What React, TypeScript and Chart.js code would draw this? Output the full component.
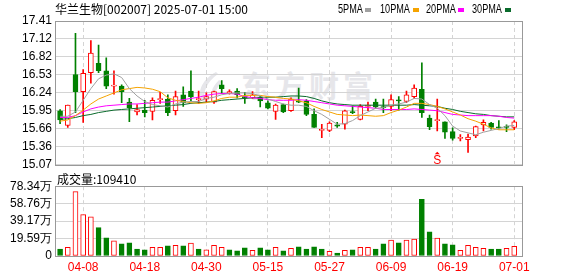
import React, { useEffect, useRef } from "react";
import { Chart, registerables } from "chart.js";
Chart.register(...registerables);

// ---------- data ----------
const stockTitle = "华兰生物[002007] 2025-07-01 15:00";
const volumeTitle = "成交量:109410";
const maNames = ["5PMA", "10PMA", "20PMA", "30PMA"];
const watermark = "东方财富";
const sellSignalDate = "06-17";

const dates = [
  "04-02", "04-03", "04-07", "04-08", "04-09", "04-10", "04-11", "04-14", "04-15", "04-16",
  "04-17", "04-18", "04-21", "04-22", "04-23", "04-24", "04-25", "04-28", "04-29", "04-30",
  "05-06", "05-07", "05-08", "05-09", "05-12", "05-13", "05-14", "05-15", "05-16", "05-19",
  "05-20", "05-21", "05-22", "05-23", "05-26", "05-27", "05-28", "05-29", "05-30", "06-03",
  "06-04", "06-05", "06-06", "06-09", "06-10", "06-11", "06-12", "06-13", "06-16", "06-17",
  "06-18", "06-19", "06-20", "06-23", "06-24", "06-25", "06-26", "06-27", "06-30", "07-01",
];
const axisDates = ["04-08", "04-18", "04-30", "05-15", "05-27", "06-09", "06-19", "07-01"];

const opens = [
  15.95, 15.71, 16.54, 16.26, 16.57, 16.72, 16.60, 16.35, 16.35, 16.09,
  15.93, 15.96, 15.94, 16.13, 16.14, 15.95, 16.21, 16.27, 16.13, 16.14,
  16.09, 16.37, 16.24, 16.27, 16.18, 16.16, 16.17, 16.08, 15.94, 16.05,
  15.95, 16.11, 16.11, 15.89, 15.63, 15.63, 15.72, 15.73, 15.93, 15.81,
  16.02, 16.09, 16.01, 16.02, 16.12, 16.10, 16.18, 16.30, 15.83, 15.79,
  15.77, 15.61, 15.50, 15.48, 15.54, 15.72, 15.75, 15.68, 15.69, 15.68,
];
const highs = [
  15.97, 16.04, 17.21, 16.62, 17.09, 17.02, 16.81, 16.60, 16.37, 16.15,
  16.05, 16.12, 16.16, 16.25, 16.21, 16.27, 16.34, 16.60, 16.27, 16.24,
  16.27, 16.44, 16.29, 16.31, 16.25, 16.26, 16.19, 16.11, 16.06, 16.06,
  16.16, 16.32, 16.13, 15.98, 15.73, 15.77, 15.76, 15.96, 16.03, 16.05,
  16.09, 16.14, 16.14, 16.21, 16.18, 16.27, 16.37, 16.73, 15.88, 16.14,
  15.77, 15.67, 15.56, 15.57, 15.70, 15.80, 15.76, 15.79, 15.72, 15.79,
];
const lows = [
  15.74, 15.68, 15.92, 15.76, 16.40, 16.57, 16.31, 16.22, 16.08, 15.77,
  15.88, 15.85, 15.80, 16.07, 15.87, 15.88, 16.02, 16.11, 16.07, 16.09,
  16.07, 16.23, 16.22, 16.16, 16.07, 16.15, 16.01, 15.98, 15.81, 15.92,
  15.94, 16.08, 15.87, 15.68, 15.51, 15.61, 15.68, 15.65, 15.90, 15.80,
  15.95, 15.99, 15.92, 15.95, 15.96, 16.08, 16.15, 15.84, 15.64, 15.62,
  15.50, 15.47, 15.46, 15.27, 15.51, 15.62, 15.65, 15.65, 15.61, 15.64,
];
const closes = [
  15.80, 16.04, 16.26, 16.56, 16.89, 16.60, 16.35, 16.36, 16.26, 16.00,
  15.97, 15.92, 16.12, 16.14, 15.92, 16.18, 16.08, 16.18, 16.14, 16.18,
  16.26, 16.31, 16.26, 16.21, 16.16, 16.21, 16.11, 15.99, 16.04, 15.93,
  16.14, 16.09, 15.89, 15.68, 15.64, 15.75, 15.70, 15.95, 15.92, 16.02,
  16.04, 16.01, 16.00, 16.13, 16.11, 16.21, 16.32, 15.92, 15.69, 15.80,
  15.60, 15.50, 15.51, 15.52, 15.69, 15.76, 15.68, 15.67, 15.68, 15.77,
];
const ma5 = [
  15.86, 15.86, 15.93, 16.12, 16.31, 16.47, 16.53, 16.55, 16.49, 16.31,
  16.19, 16.10, 16.05, 16.03, 16.01, 16.06, 16.09, 16.10, 16.10, 16.15,
  16.17, 16.21, 16.23, 16.24, 16.24, 16.23, 16.19, 16.14, 16.10, 16.06,
  16.04, 16.04, 16.02, 15.95, 15.89, 15.81, 15.73, 15.74, 15.79, 15.87,
  15.93, 15.99, 16.00, 16.04, 16.06, 16.09, 16.15, 16.14, 16.05, 15.99,
  15.87, 15.70, 15.62, 15.59, 15.56, 15.60, 15.63, 15.66, 15.70, 15.71,
];
const ma10 = [
  15.78, 15.80, 15.87, 15.96, 16.06, 16.14, 16.19, 16.24, 16.29, 16.31,
  16.33, 16.32, 16.30, 16.26, 16.16, 16.12, 16.10, 16.08, 16.07, 16.08,
  16.11, 16.15, 16.17, 16.17, 16.20, 16.20, 16.20, 16.18, 16.17, 16.15,
  16.14, 16.11, 16.08, 16.02, 15.97, 15.93, 15.89, 15.88, 15.87, 15.88,
  15.87, 15.86, 15.87, 15.92, 15.96, 16.01, 16.07, 16.07, 16.05, 16.02,
  15.98, 15.93, 15.88, 15.82, 15.78, 15.73, 15.67, 15.64, 15.64, 15.64,
];
const ma20 = [
  15.84, 15.84, 15.87, 15.93, 15.98, 16.01, 16.03, 16.04, 16.05, 16.06,
  16.06, 16.07, 16.08, 16.09, 16.09, 16.11, 16.13, 16.15, 16.17, 16.20,
  16.22, 16.23, 16.23, 16.22, 16.18, 16.16, 16.15, 16.13, 16.12, 16.12,
  16.12, 16.13, 16.12, 16.10, 16.08, 16.06, 16.04, 16.03, 16.02, 16.01,
  16.00, 15.99, 15.97, 15.97, 15.97, 15.97, 15.98, 15.97, 15.96, 15.95,
  15.92, 15.89, 15.88, 15.87, 15.87, 15.87, 15.87, 15.86, 15.84, 15.83,
];
const ma30 = [
  15.81, 15.82, 15.84, 15.87, 15.89, 15.92, 15.94, 15.96, 15.97, 15.98,
  15.99, 16.00, 16.01, 16.02, 16.03, 16.04, 16.05, 16.07, 16.08, 16.09,
  16.10, 16.12, 16.13, 16.14, 16.15, 16.16, 16.16, 16.17, 16.17, 16.18,
  16.19, 16.19, 16.18, 16.15, 16.11, 16.08, 16.06, 16.05, 16.04, 16.04,
  16.04, 16.04, 16.04, 16.04, 16.04, 16.04, 16.05, 16.04, 16.03, 16.02,
  15.99, 15.97, 15.94, 15.92, 15.90, 15.89, 15.87, 15.86, 15.85, 15.85,
];
// volume in 万 (10k hands)
const volumes = [
  7.9, 9.8, 72.3, 46.5, 43.9, 31.8, 20.4, 17.0, 13.6, 14.8,
  7.9, 6.8, 9.8, 9.8, 11.4, 12.1, 11.4, 14.4, 7.9, 6.8,
  12.1, 9.8, 6.8, 5.7, 9.1, 6.4, 9.1, 6.8, 9.8, 5.7,
  8.7, 10.2, 7.9, 10.2, 7.9, 5.3, 3.4, 6.4, 6.8, 9.8,
  9.8, 7.9, 13.6, 17.8, 14.8, 17.8, 18.9, 63.6, 27.2, 20.1,
  13.6, 12.5, 6.4, 12.1, 9.8, 8.7, 7.9, 7.9, 8.7, 10.941,
];
const priceMin = 15.07;
const priceMax = 17.41;
const priceTickLabels = ["15.07", "15.36", "15.66", "15.95", "16.24", "16.53", "16.82", "17.12", "17.41"];
const volMax = 78.34;
const volTickLabels = ["0", "19.59万", "39.17万", "58.76万", "78.34万"];

// ---------- styles ----------
const RED = "#ff0000";
const GREEN = "#008000";
const MA_COLORS = ["#a0a0a0", "#f5a300", "#ff00ff", "#0a6b2c"];
const GRID = "#d4d4d4";
const FRAME = "#999999";
const NUM_FONT = "'Liberation Sans', Arial, sans-serif";
const CJK_FONT = "'Noto Sans CJK SC', 'Liberation Sans', sans-serif";

const X_MIN = -0.66;
const X_MAX = 60.01;
const gridIdx = axisDates.map((d) => dates.indexOf(d));

const framePlugin = {
  id: "frame",
  afterDatasetsDraw(chart: any) {
    const { ctx, chartArea: a } = chart;
    ctx.save();
    ctx.strokeStyle = FRAME;
    ctx.lineWidth = 1;
    ctx.strokeRect(Math.round(a.left) + 0.5, Math.round(a.top) + 0.5, Math.round(a.right - a.left), Math.round(a.bottom - a.top));
    ctx.restore();
  },
};

const signalPlugin = {
  id: "signal",
  afterDatasetsDraw(chart: any) {
    const idx = dates.indexOf(sellSignalDate);
    if (idx < 0) return;
    const { ctx, chartArea: a } = chart;
    const x = chart.scales.x.getPixelForValue(idx);
    const yb = a.bottom - 1;
    ctx.save();
    ctx.fillStyle = RED;
    ctx.beginPath();
    ctx.moveTo(x, yb - 12);
    ctx.lineTo(x - 2.5, yb - 9.5);
    ctx.lineTo(x + 2.5, yb - 9.5);
    ctx.closePath();
    ctx.fill();
    ctx.font = `12px ${NUM_FONT}`;
    ctx.textAlign = "center";
    ctx.textBaseline = "alphabetic";
    ctx.fillText("S", x, yb);
    ctx.restore();
  },
};

function xAxis(showLabels: boolean) {
  return {
    type: "linear",
    min: X_MIN,
    max: X_MAX,
    offset: false,
    afterBuildTicks: (s: any) => {
      s.ticks = gridIdx.map((v) => ({ value: v }));
    },
    afterFit: (s: any) => {
      s.height = showLabels ? 20 : 0;
    },
    grid: { display: true, offset: false, color: GRID, lineWidth: 1, drawTicks: false },
    border: { display: false, dash: [4, 3] },
    ticks: {
      display: showLabels,
      autoSkip: false,
      maxRotation: 0,
      minRotation: 0,
      padding: 4,
      color: RED,
      font: { family: NUM_FONT, size: 12 },
      callback: (v: any) => dates[v as number] ?? "",
    },
  };
}

function priceConfig(): any {
  const up = closes.map((c, i) => c >= opens[i]);
  const candleColor = up.map((u) => (u ? RED : GREEN));
  const bodyFill = up.map((u) => (u ? "#ffffff" : GREEN));
  const maSeries = [ma5, ma10, ma20, ma30];
  return {
    type: "bar",
    data: {
      datasets: [
        ...maSeries.map((arr, k) => ({
          type: "line",
          label: maNames[k],
          data: arr.map((v, i) => ({ x: i, y: v })),
          borderColor: MA_COLORS[k],
          borderWidth: 1,
          pointRadius: 0,
          tension: 0,
          fill: false,
          order: 0,
        })),
        {
          type: "bar",
          label: "body",
          data: opens.map((o, i) => ({ x: i, y: [o, closes[i]] })),
          backgroundColor: bodyFill,
          borderColor: candleColor,
          borderWidth: 1,
          borderSkipped: false,
          barThickness: 5,
          minBarLength: 1,
          grouped: false,
          order: 1,
        },
        {
          type: "bar",
          label: "wick",
          data: highs.map((h, i) => ({ x: i, y: [lows[i], h] })),
          backgroundColor: candleColor,
          borderWidth: 0,
          barThickness: 1,
          grouped: false,
          order: 2,
        },
      ],
    },
    options: {
      responsive: false,
      maintainAspectRatio: false,
      animation: false,
      devicePixelRatio: 1,
      layout: { padding: { left: 0, right: 56, top: 21, bottom: 10 } },
      plugins: { legend: { display: false }, tooltip: { enabled: false }, title: { display: false } },
      scales: {
        x: xAxis(false),
        y: {
          type: "linear",
          min: priceMin,
          max: priceMax,
          afterBuildTicks: (s: any) => {
            const n = priceTickLabels.length - 1;
            s.ticks = priceTickLabels.map((_, k) => ({ value: priceMin + (k * (priceMax - priceMin)) / n }));
          },
          afterFit: (s: any) => {
            s.width = 55;
          },
          grid: { color: GRID, lineWidth: 1, drawTicks: false },
          border: { display: false },
          ticks: {
            padding: 3,
            color: "#000",
            font: { family: NUM_FONT, size: 12 },
            callback: (_v: any, i: number) => priceTickLabels[i],
          },
        },
      },
    },
    plugins: [framePlugin, signalPlugin],
  };
}

function volConfig(): any {
  const up = volumes.map((_, i) => (i === 0 ? closes[0] >= opens[0] : closes[i] >= closes[i - 1]));
  return {
    type: "bar",
    data: {
      datasets: [
        {
          label: "volume",
          data: volumes.map((v, i) => ({ x: i, y: v })),
          backgroundColor: up.map((u) => (u ? "#ffffff" : GREEN)),
          borderColor: up.map((u) => (u ? RED : GREEN)),
          borderWidth: 1,
          borderSkipped: false,
          barThickness: 5,
          grouped: false,
        },
      ],
    },
    options: {
      responsive: false,
      maintainAspectRatio: false,
      animation: false,
      devicePixelRatio: 1,
      layout: { padding: { left: 0, right: 56, top: 10, bottom: 0 } },
      plugins: { legend: { display: false }, tooltip: { enabled: false }, title: { display: false } },
      scales: {
        x: xAxis(true),
        y: {
          type: "linear",
          min: 0,
          max: volMax,
          afterBuildTicks: (s: any) => {
            const n = volTickLabels.length - 1;
            s.ticks = volTickLabels.map((_, k) => ({ value: (k * volMax) / n }));
          },
          afterFit: (s: any) => {
            s.width = 55;
          },
          grid: { color: GRID, lineWidth: 1, drawTicks: false },
          border: { display: false },
          ticks: {
            padding: 3,
            color: "#000",
            font: { family: NUM_FONT, size: 12 },
            callback: (_v: any, i: number) => volTickLabels[i],
          },
        },
      },
    },
    plugins: [framePlugin],
  };
}

const legendLeft = [338, 380, 426, 472];
const legendSquareLeft = [365, 413, 458, 505];

export default function App() {
  const priceRef = useRef<HTMLCanvasElement>(null);
  const volRef = useRef<HTMLCanvasElement>(null);

  useEffect(() => {
    const pc = new Chart(priceRef.current as HTMLCanvasElement, priceConfig());
    const vc = new Chart(volRef.current as HTMLCanvasElement, volConfig());
    return () => {
      pc.destroy();
      vc.destroy();
    };
  }, []);

  return (
    <div
      style={{
        position: "fixed",
        left: 0,
        top: 0,
        width: 578,
        height: 276,
        background: "#ffffff",
        overflow: "hidden",
      }}
    >
      {/* watermark */}
      <svg style={{ position: "absolute", left: 0, top: 0 }} width={578} height={276}>
        <path d="M216 72 C201 80 195 95 205 103 C202 92 207 82 218 74 Z" fill="#e6e6ea" />
        <path d="M219 80 C211 88 209 96 214 101 C214 94 217 87 222 82 Z" fill="#e6e6ea" />
      </svg>
      <div
        style={{
          position: "absolute",
          left: 241,
          top: 66,
          fontFamily: CJK_FONT,
          fontSize: 30,
          fontWeight: 700,
          letterSpacing: 4,
          color: "#e6e6ea",
          lineHeight: "36px",
          whiteSpace: "nowrap",
        }}
      >
        {watermark}
      </div>

      <canvas
        ref={priceRef}
        width={578}
        height={175}
        style={{ position: "absolute", left: 0, top: 0, width: 578, height: 175 }}
      />
      <canvas
        ref={volRef}
        width={578}
        height={100}
        style={{ position: "absolute", left: 0, top: 176, width: 578, height: 100 }}
      />

      <div
        style={{
          position: "absolute",
          left: 55,
          top: 2,
          fontFamily: CJK_FONT,
          fontSize: 12,
          lineHeight: "14px",
          color: "#000",
          whiteSpace: "nowrap",
        }}
      >
        {stockTitle}
      </div>

      {maNames.map((name, k) => (
        <React.Fragment key={name}>
          <div
            style={{
              position: "absolute",
              left: legendLeft[k],
              top: 2,
              fontFamily: NUM_FONT,
              fontSize: 12,
              lineHeight: "14px",
              color: "#000",
              whiteSpace: "nowrap",
              transform: "scaleX(0.76)",
              transformOrigin: "left center",
            }}
          >
            {name}
          </div>
          <div
            style={{
              position: "absolute",
              left: legendSquareLeft[k],
              top: 8,
              width: 6,
              height: 4,
              background: MA_COLORS[k],
            }}
          />
        </React.Fragment>
      ))}

      <div
        style={{
          position: "absolute",
          left: 57,
          top: 172,
          fontFamily: CJK_FONT,
          fontSize: 12,
          lineHeight: "14px",
          color: "#000",
          whiteSpace: "nowrap",
        }}
      >
        {volumeTitle}
      </div>
    </div>
  );
}
